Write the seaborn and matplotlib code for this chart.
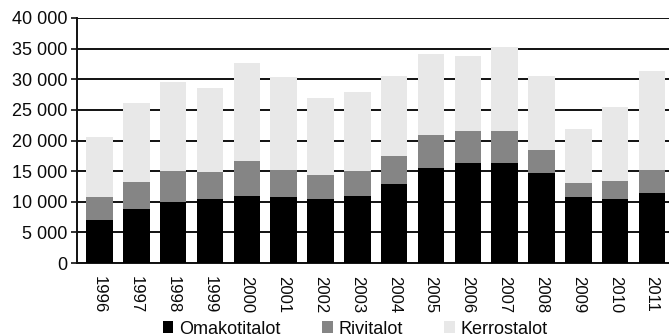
import matplotlib
matplotlib.use("Agg")
import matplotlib.pyplot as plt
from matplotlib.patches import Patch
from matplotlib.ticker import FuncFormatter, MultipleLocator
import numpy as np
import pandas as pd
import seaborn as sns

# Completed dwellings by building type
years = ["1996", "1997", "1998", "1999", "2000", "2001", "2002", "2003",
         "2004", "2005", "2006", "2007", "2008", "2009", "2010", "2011"]
omakotitalot = [7100, 8850, 9900, 10400, 11000, 10700, 10500, 10900,
                12900, 15500, 16300, 16300, 14700, 10700, 10500, 11400]
rivitalot = [3600, 4350, 5100, 4400, 5600, 4500, 3800, 4200,
             4600, 5400, 5300, 5300, 3800, 2400, 2900, 3800]
kerrostalot = [9900, 13000, 14600, 13700, 16000, 15100, 12700, 12800,
               13000, 13200, 12200, 13700, 12000, 8700, 12000, 16100]
series_names = ["Omakotitalot", "Rivitalot", "Kerrostalot"]
series_colors = ["#000000", "#858585", "#e8e8e8"]

df = pd.DataFrame({"vuosi": years, "Omakotitalot": omakotitalot,
                   "Rivitalot": rivitalot, "Kerrostalot": kerrostalot})
# cumulative heights for stacking (draw tallest first, then overlay)
df["c1"] = df["Omakotitalot"]
df["c2"] = df["c1"] + df["Rivitalot"]
df["c3"] = df["c2"] + df["Kerrostalot"]

sns.set_theme(style="white")
plt.rcParams["font.family"] = ["Liberation Sans", "DejaVu Sans"]

fig = plt.figure(figsize=(6.69, 3.36), dpi=100)
ax = fig.add_axes([77 / 669, 1 - 263 / 336, (674.5 - 77) / 669, (263 - 18) / 336])

for col, color in zip(["c3", "c2", "c1"], series_colors[::-1]):
    sns.barplot(data=df, x="vuosi", y=col, color=color, width=0.72,
                saturation=1, edgecolor="none", linewidth=0, ax=ax, zorder=3)

ax.set_ylim(0, 40000)
ax.set_xlim(-0.61, len(years) - 1 + 0.61)
ax.yaxis.set_major_locator(MultipleLocator(5000))
ax.yaxis.set_major_formatter(
    FuncFormatter(lambda v, p: f"{int(v):,}".replace(",", " ")))
ax.grid(axis="y", color="#111111", linewidth=1.4, zorder=0)
ax.set_axisbelow(True)
ax.set_xlabel("")
ax.set_ylabel("")

for side in ["top", "right"]:
    ax.spines[side].set_visible(False)
for side in ["left", "bottom"]:
    ax.spines[side].set_color("#111111")
    ax.spines[side].set_linewidth(1.4)

ax.tick_params(axis="y", which="major", left=True, length=4, width=1.2,
               color="#111111", labelsize=13, pad=3, labelcolor="#0a0a0a")
ax.tick_params(axis="x", length=0, pad=9, labelsize=12, labelcolor="#0a0a0a")
for lbl in ax.get_xticklabels():
    lbl.set_rotation(270)
    lbl.set_va("top")
    lbl.set_ha("center")

handles = [Patch(facecolor=c, edgecolor="none", label=n)
           for n, c in zip(series_names, series_colors)]
fig.legend(handles=handles, loc="center", ncol=3, frameon=False,
           bbox_to_anchor=(355 / 669, 1 - 329 / 336), fontsize=13,
           handlelength=0.6, handleheight=0.6, handletextpad=0.3,
           columnspacing=2.3, borderaxespad=0, borderpad=0,
           labelcolor="#0a0a0a")

fig.savefig("out.png", dpi=100)
